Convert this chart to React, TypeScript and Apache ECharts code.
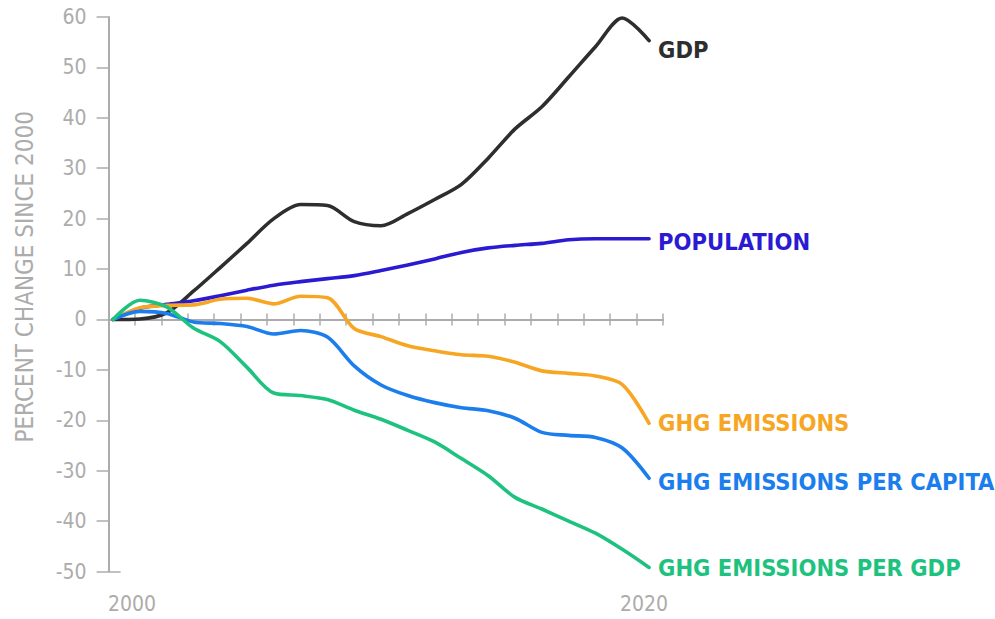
import React, { useEffect, useRef } from "react";
import * as echarts from "echarts";

const years = [2000, 2001, 2002, 2003, 2004, 2005, 2006, 2007, 2008, 2009, 2010, 2011, 2012, 2013, 2014, 2015, 2016, 2017, 2018, 2019, 2020];
const gdp = [0, 0.1, 1.3, 5.6, 10.3, 15.1, 20.0, 22.8, 22.6, 19.4, 18.6, 21.0, 23.8, 26.8, 32.0, 37.8, 42.2, 48.1, 54.1, 59.8, 55.3];
const population = [0, 2.2, 3.0, 3.7, 4.7, 5.8, 6.8, 7.5, 8.1, 8.7, 9.7, 10.8, 12.0, 13.3, 14.2, 14.7, 15.1, 15.8, 16.0, 16.0, 16.0];
const ghgEmissions = [0, 2.3, 2.8, 2.9, 4.0, 4.2, 3.1, 4.6, 4.3, -1.8, -3.4, -5.2, -6.2, -7.0, -7.3, -8.5, -10.2, -10.7, -11.2, -12.9, -20.6];
const ghgPerCapita = [0, 1.6, 1.2, -0.5, -0.8, -1.4, -2.9, -2.2, -3.5, -9.2, -13.0, -15.1, -16.5, -17.5, -18.1, -19.6, -22.4, -23.0, -23.4, -25.5, -31.5];
const ghgPerGdp = [0, 3.8, 2.5, -1.7, -4.4, -9.5, -14.6, -15.1, -15.9, -18.0, -19.8, -22.0, -24.3, -27.6, -31.0, -35.3, -37.6, -40.0, -42.4, -45.6, -49.2];

const seriesNames = ["GDP", "POPULATION", "GHG EMISSIONS", "GHG EMISSIONS PER CAPITA", "GHG EMISSIONS PER GDP"];
const seriesColors = ["#2e2e2e", "#2a1ad2", "#f6a623", "#1c7ded", "#1ec27f"];
const yearLabels = [2000, 2020];
const yMin = -50;
const yMax = 60;

const AXIS_COLOR = "#acacac";
const LABEL_FONT = '"DejaVu Sans Condensed", "DejaVu Sans", sans-serif';

export default function App() {
  const ref = useRef<HTMLDivElement>(null);
  useEffect(() => {
    if (!ref.current) return;
    const chart = echarts.init(ref.current, null, { renderer: "svg" });
    const allData = [gdp, population, ghgEmissions, ghgPerCapita, ghgPerGdp];
    const labelOffsets = [[0, 9], [0, 3], [0, 0], [0, 4], [0, 1]];
    const series = allData.map((vals, i) => ({
      name: seriesNames[i],
      type: "line",
      xAxisIndex: 0,
      yAxisIndex: 0,
      smooth: 0.3,
      symbol: "none",
      data: vals.map((v, k) => [years[k], v]),
      lineStyle: { color: seriesColors[i], width: 3.6, cap: "round", join: "round" },
      itemStyle: { color: seriesColors[i] },
      endLabel: {
        show: true,
        formatter: seriesNames[i],
        color: seriesColors[i],
        fontFamily: LABEL_FONT,
        fontWeight: "bold",
        fontSize: 23.5,
        distance: 9,
        offset: labelOffsets[i],
      },
      z: 3 + i,
    }));
    const tickAxis = (inside: boolean) => ({
      type: "value",
      min: 0,
      max: 21,
      interval: 1,
      position: "bottom",
      axisLine: { show: true, onZero: true, onZeroAxisIndex: 0, lineStyle: { color: AXIS_COLOR, width: 2 } },
      axisTick: { show: true, inside, length: 6, lineStyle: { color: AXIS_COLOR, width: 1.5 } },
      axisLabel: { show: false },
      splitLine: { show: false },
    });
    chart.setOption({
      animation: false,
      backgroundColor: "#ffffff",
      grid: { left: 108.6, right: 332, top: 17, bottom: 47.5, containLabel: false },
      xAxis: [
        {
          type: "value",
          min: 1999.836,
          max: 2020.52,
          position: "bottom",
          axisLine: { show: false, onZero: false },
          axisTick: { show: false },
          splitLine: { show: false },
          axisLabel: {
            customValues: yearLabels,
            margin: 22,
            color: AXIS_COLOR,
            fontFamily: LABEL_FONT,
            fontSize: 21,
            formatter: (v: number) => (v === yearLabels[0] ? "{s|" + v + "}" : "{e|" + v + "}"),
            rich: {
              s: { padding: [0, 0, 0, 38], color: AXIS_COLOR, fontFamily: LABEL_FONT, fontSize: 21 },
              e: { padding: [0, 10, 0, 0], color: AXIS_COLOR, fontFamily: LABEL_FONT, fontSize: 21 },
            },
          },
        },
        tickAxis(false),
        tickAxis(true),
      ],
      yAxis: [
        {
          type: "value",
          min: yMin,
          max: yMax,
          interval: 10,
          position: "left",
          name: "PERCENT CHANGE SINCE 2000",
          nameLocation: "middle",
          nameGap: 72,
          nameTextStyle: {
            color: AXIS_COLOR,
            fontFamily: LABEL_FONT,
            fontSize: 24,
            padding: [0, 0, 0, 35],
          },
          axisLine: { show: true, onZero: false, lineStyle: { color: AXIS_COLOR, width: 2 } },
          axisTick: { show: true, length: 12, lineStyle: { color: AXIS_COLOR, width: 1.5 } },
          axisLabel: { color: AXIS_COLOR, fontFamily: LABEL_FONT, fontSize: 21, margin: 22 },
          splitLine: { show: false },
        },
        {
          type: "value",
          min: yMin,
          max: yMax,
          position: "left",
          axisLine: { show: false, onZero: false },
          axisTick: { show: true, inside: true, length: 12, customValues: [yMin], lineStyle: { color: AXIS_COLOR, width: 1.5 } },
          axisLabel: { show: false },
          splitLine: { show: false },
        },
      ],
      series,
    });
    return () => chart.dispose();
  }, []);
  return <div ref={ref} style={{ position: "fixed", left: 0, top: 0, width: 995, height: 619 }} />;
}
